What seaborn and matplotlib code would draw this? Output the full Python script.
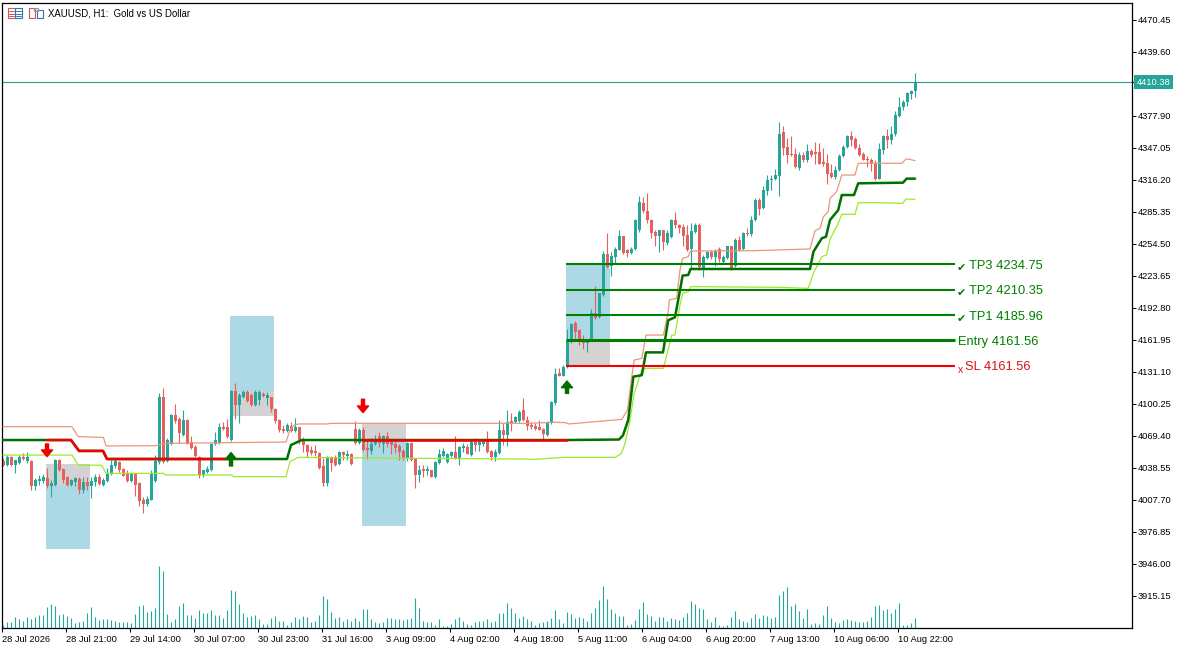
import numpy as np
import pandas as pd
import matplotlib
matplotlib.use('Agg')
import matplotlib.pyplot as plt
from matplotlib.patches import Rectangle
import seaborn as sns

# candles, bar 0 = 28 Jul 2026
opens = [4045,4041,4049,4041,4043,4049,4045,4045,4021,4026,
         4026,4029,4021,4022,4046,4038,4030,4022,4025,4028,
         4017,4025,4021,4025,4030,4022,4026,4033,4040,4044,
         4038,4033,4026,4033,4024,4008,4004,4008,4026,4044,
         4107,4045,4062,4090,4086,4070,4085,4064,4059,4049,
         4032,4035,4037,4062,4063,4078,4078,4066,4113,4099,
         4107,4112,4109,4099,4104,4110,4106,4107,4095,4085,
         4076,4074,4079,4074,4078,4066,4061,4056,4055,4053,
         4040,4024,4048,4049,4042,4054,4050,4052,4076,4063,
         4075,4057,4055,4062,4069,4062,4069,4064,4062,4060,
         4055,4048,4063,4047,4032,4037,4036,4037,4030,4043,
         4050,4044,4050,4054,4048,4058,4059,4051,4064,4061,
         4062,4066,4055,4049,4053,4075,4070,4084,4083,4084,
         4094,4085,4080,4079,4078,4076,4070,4082,4101,4130,
         4127,4136,4161,4178,4172,4163,4159,4163,4188,4184,
         4205,4245,4233,4242,4249,4262,4249,4246,4250,4268,
         4294,4286,4278,4266,4262,4268,4255,4261,4278,4273,
         4271,4263,4250,4266,4273,4231,4241,4247,4242,4250,
         4237,4241,4253,4233,4258,4250,4265,4264,4278,4297,
         4289,4306,4316,4317,4320,4362,4348,4341,4341,4328,
         4340,4335,4344,4343,4343,4334,4333,4323,4319,4326,
         4339,4348,4359,4356,4347,4341,4336,4335,4333,4317,
         4345,4359,4355,4361,4378,4387,4391,4399,4402]
highs = [4048,4051,4050,4046,4051,4053,4054,4046,4029,4032,
         4033,4039,4027,4047,4047,4039,4031,4028,4030,4030,
         4030,4030,4030,4033,4033,4029,4039,4046,4047,4045,
         4039,4037,4034,4034,4025,4011,4012,4037,4051,4111,
         4116,4067,4091,4100,4088,4094,4086,4069,4061,4050,
         4037,4040,4063,4073,4082,4083,4086,4114,4120,4111,
         4114,4114,4111,4114,4114,4112,4112,4107,4096,4086,
         4080,4082,4083,4087,4078,4068,4062,4060,4061,4054,
         4048,4050,4050,4051,4055,4055,4056,4053,4084,4077,
         4078,4066,4067,4070,4073,4070,4073,4066,4066,4062,
         4057,4064,4064,4048,4041,4041,4040,4037,4045,4057,
         4058,4053,4055,4069,4060,4063,4062,4066,4067,4065,
         4066,4074,4056,4057,4085,4082,4094,4092,4089,4094,
         4106,4089,4083,4082,4085,4077,4084,4103,4135,4135,
         4138,4173,4178,4180,4173,4167,4162,4192,4214,4207,
         4248,4265,4247,4252,4268,4262,4250,4252,4279,4301,
         4300,4304,4279,4268,4268,4268,4268,4279,4285,4274,
         4274,4273,4275,4275,4275,4244,4248,4249,4250,4252,
         4244,4253,4253,4260,4262,4266,4270,4281,4299,4299,
         4310,4321,4321,4327,4372,4368,4357,4359,4347,4343,
         4343,4351,4346,4353,4352,4347,4341,4332,4330,4341,
         4350,4360,4363,4358,4351,4343,4339,4337,4335,4352,
         4360,4365,4368,4383,4396,4393,4401,4403,4419]
lows = [4040,4040,4040,4034,4042,4046,4043,4017,4017,4022,
        4024,4019,4011,4021,4036,4024,4021,4021,4021,4013,
        4014,4017,4010,4021,4022,4021,4025,4032,4039,4035,
        4031,4025,4025,4012,4002,3995,4002,4008,4025,4042,
        4043,4044,4061,4082,4063,4069,4062,4057,4049,4029,
        4030,4034,4036,4061,4062,4075,4067,4065,4086,4082,
        4106,4102,4098,4098,4099,4107,4099,4093,4082,4073,
        4072,4073,4073,4073,4062,4054,4049,4051,4050,4038,
        4021,4021,4036,4040,4041,4046,4046,4041,4062,4062,
        4055,4047,4052,4061,4059,4053,4059,4052,4053,4046,
        4046,4045,4045,4019,4025,4030,4032,4030,4029,4042,
        4049,4043,4049,4047,4041,4054,4052,4050,4055,4055,
        4060,4053,4046,4045,4052,4061,4060,4074,4082,4083,
        4084,4075,4076,4075,4075,4066,4069,4081,4099,4127,
        4127,4135,4159,4162,4157,4153,4150,4161,4182,4183,
        4204,4231,4224,4236,4249,4245,4242,4245,4249,4266,
        4284,4275,4260,4253,4247,4249,4254,4260,4270,4265,
        4253,4248,4230,4265,4229,4223,4240,4240,4233,4237,
        4236,4240,4229,4232,4248,4249,4262,4262,4277,4282,
        4288,4302,4307,4316,4301,4340,4333,4339,4328,4326,
        4334,4334,4338,4332,4332,4330,4312,4318,4317,4325,
        4338,4347,4349,4346,4339,4335,4329,4325,4316,4317,
        4341,4347,4351,4359,4377,4384,4388,4394,4396]
closes = [4041,4049,4041,4046,4049,4047,4049,4021,4027,4028,
          4030,4021,4024,4046,4037,4027,4022,4027,4029,4017,
          4025,4021,4026,4030,4023,4027,4033,4041,4045,4037,
          4031,4026,4033,4022,4007,4004,4009,4033,4045,4107,
          4044,4066,4090,4084,4072,4085,4062,4058,4050,4032,
          4037,4038,4062,4066,4078,4076,4068,4113,4099,4109,
          4112,4103,4099,4112,4112,4108,4109,4095,4084,4075,
          4074,4080,4074,4078,4066,4061,4054,4053,4053,4039,
          4024,4049,4043,4041,4054,4051,4052,4042,4063,4075,
          4056,4056,4062,4066,4063,4069,4062,4061,4058,4054,
          4048,4063,4046,4032,4037,4036,4037,4030,4044,4052,
          4055,4052,4054,4048,4059,4059,4052,4064,4061,4064,
          4064,4054,4049,4054,4075,4070,4083,4082,4088,4093,
          4085,4079,4078,4076,4075,4071,4083,4102,4129,4127,
          4136,4161,4177,4170,4163,4159,4160,4188,4183,4207,
          4245,4232,4243,4250,4262,4246,4246,4250,4278,4295,
          4286,4278,4265,4262,4268,4256,4265,4278,4273,4270,
          4262,4249,4267,4273,4232,4242,4247,4242,4248,4240,
          4242,4253,4231,4258,4249,4265,4264,4278,4297,4288,
          4307,4316,4317,4321,4361,4347,4340,4340,4329,4340,
          4335,4344,4340,4341,4332,4332,4322,4319,4326,4339,
          4348,4359,4355,4347,4340,4335,4335,4332,4317,4346,
          4359,4355,4361,4379,4387,4391,4400,4402,4410.38]
tick_volume = [10,18,18,33,29,23,33,29,35,39,
               40,63,73,67,40,43,37,31,15,18,
               23,47,63,35,25,28,29,25,22,19,
               19,18,15,43,67,70,48,53,61,187,
               173,43,20,28,67,75,41,40,31,55,
               45,45,55,41,39,31,55,115,113,73,
               45,35,37,41,27,13,13,30,37,23,
               23,10,19,33,29,37,33,18,23,39,
               97,88,50,31,33,23,27,23,31,23,
               59,57,29,19,15,19,31,31,27,27,
               26,28,31,91,61,21,18,19,10,27,
               8,7,12,29,33,23,13,9,19,21,
               21,27,19,23,45,47,75,60,45,31,
               37,27,23,11,15,19,21,31,55,27,
               15,50,43,32,34,32,22,46,61,85,
               127,88,58,46,36,37,10,13,25,58,
               79,43,37,22,34,34,22,31,28,25,
               34,46,82,73,61,59,28,19,34,10,
               7,10,34,52,28,22,19,31,43,31,
               40,37,31,34,100,112,124,67,73,52,
               31,58,13,16,13,40,67,31,19,16,
               25,28,25,22,19,19,22,34,67,70,
               55,58,46,58,76,10,10,16,31]

# band turning points: bar number and price
upper_bars = [0,17.2,18.8,25.1,25.75,38,41,56.7,70.75,71.75,72.8,74,81,81.9,131,138,140.5,141.5,154.7,
              156.1,157.2,157.8,159.7,160.75,165.1,166.3,166.6,168.4,169.25,169.9,171.3,171.9,187.6,
              198.4,201.75,203,204.25,205.1,206.3,206.75,208.4,209.7,213,213.8,224.7,225.75,226.3,228]
upper_vals = [4078.4,4078.4,4068.8,4068,4059.8,4060,4062.3,4063,4063.6,4075.2,4080,4081,4081,4081.6,4081.6,4082.6,4082.3,4081,4085.4,
              4094.4,4126.6,4142.6,4144.3,4166.7,4166.7,4189.2,4200.5,4202.1,4229.4,4240.7,4242.3,4247.7,4248,
              4249.3,4249.7,4267.3,4269.6,4280.8,4285.6,4298.5,4304.9,4321,4321,4332.3,4332.3,4336.4,4336.4,4334.8]
mid_bars = [0,11,17,19,25,26,57,71,72,74.7,90,141,154,155,156.3,157.6,159.7,160.75,165,166.3,168,169.25,169.9,
            171.3,171.9,201.75,202.6,204.7,205.75,206.75,208.8,209.7,212.75,213.8,225,225.9,228]
mid_vals = [4065.5,4065.5,4065.5,4055,4055,4047.2,4047.2,4047.2,4060.7,4065.5,4065.5,4065.5,4066,4070,4084.8,4126.6,4128,4150,4150,4181,4183.8,4210,4224,
            4224.6,4230.4,4230.4,4247,4260,4261.5,4277.6,4287.2,4301.7,4301.7,4313,4313.6,4317.5,4317.5]
lower_bars = [0,17.25,18.8,24.7,25.75,40.1,40.7,57.2,57.6,70.75,71.75,73.8,102.6,130.9,133,140.1,153,154.5,155.5,156.75,
              157.8,159.7,160.9,165.1,167.2,168,169.25,169.9,171.3,171.9,194.25,201.3,202.6,204.7,205.9,206.75,
              208.8,209.7,213,213.8,219.25,224.9,225.75,228]
lower_vals = [4051,4051,4041.4,4041.1,4033.4,4033.4,4031.8,4031.8,4030.2,4030.2,4044.7,4048.8,4047.9,4047.2,4046.9,4048.8,4048.8,4052,4062,4084.8,
              4110.5,4133,4134.6,4134.6,4166.7,4166.7,4195.7,4207,4208.5,4213.4,4212.7,4211.7,4226.2,4242.3,4243.9,4259,
              4274.4,4283.1,4283.1,4294.3,4294.3,4293.7,4297.9,4297.5]

# sell/buy stretches of the middle line: first bar, last bar
red_stretches = [(11, 57), (90, 141)]

# trade boxes: first bar, last bar, blue from/to, grey from/to
box_starts = [10.75, 56.75, 89.75, 140.75]
box_ends = [21.75, 67.75, 100.75, 151.75]
blue_low = [3960.5, 4112, 3983, 4161.56]
blue_high = [4022.2, 4185, 4065.5, 4235]
grey_low = [4022.2, 4089, 4065.5, 4136.8]
grey_high = [4042.6, 4112, 4081.6, 4161.56]

# arrows: bar, tail price, tip price
sell_bars = [11, 90]
sell_tails = [4061.7, 4104.8]
sell_tips = [4049.5, 4091.9]
buy_bars = [57, 141]
buy_tails = [4040.5, 4110.5]
buy_tips = [4053.4, 4122.4]

level_names = ['TP3 4234.75', 'TP2 4210.35', 'TP1 4185.96', 'Entry 4161.56', 'SL 4161.56']
level_prices = [4234.75, 4210.35, 4185.96, 4161.56, 4137.0]

y_ticks = [4470.45, 4439.60, 4377.90, 4347.05, 4316.20, 4285.35, 4254.50, 4223.65, 4192.80,
           4161.95, 4131.10, 4100.25, 4069.40, 4038.55, 4007.70, 3976.85, 3946.00, 3915.15]
last_price = 4410.38
x_tick_bars = [0, 16, 32, 48, 64, 80, 96, 112, 128, 144, 160, 176, 192, 208, 224]
x_tick_labels = ['28 Jul 2026', '28 Jul 21:00', '29 Jul 14:00', '30 Jul 07:00', '30 Jul 23:00',
                 '31 Jul 16:00', '3 Aug 09:00', '4 Aug 02:00', '4 Aug 18:00', '5 Aug 11:00',
                 '6 Aug 04:00', '6 Aug 20:00', '7 Aug 13:00', '10 Aug 06:00', '10 Aug 22:00']

TEAL = '#26A69A'
CANDLE_RED = '#E5605E'
GREEN = '#007F00'

sns.set_theme(style='white')
plt.rcParams['font.family'] = ['Liberation Sans', 'DejaVu Sans']

W, H = 1184, 649
X_LEFT = 1.75
X_RIGHT = 1131.7
BAR_ZERO = 3.0
fig = plt.figure(figsize=(W / 100, H / 100), dpi=100)
ax = fig.add_axes([X_LEFT / W, 1 - 628.3 / H, (X_RIGHT - X_LEFT) / W, (628.3 - 2.5) / H])
# bars sit 4 px apart
x_limits = (-(BAR_ZERO - X_LEFT) / 4, (X_RIGHT - BAR_ZERO) / 4)

candles = pd.DataFrame({'open': opens, 'high': highs, 'low': lows, 'close': closes, 'vol': tick_volume})
candles['bar'] = candles.index
candles['up'] = candles['close'] >= candles['open']
candle_colors = np.where(candles['up'], TEAL, CANDLE_RED)

# boxes behind everything
for i in range(len(box_starts)):
    w = box_ends[i] - box_starts[i]
    ax.add_patch(Rectangle((box_starts[i], blue_low[i]), w, blue_high[i] - blue_low[i],
                           color='#ADD8E6', lw=0, zorder=1))
    ax.add_patch(Rectangle((box_starts[i], grey_low[i]), w, grey_high[i] - grey_low[i],
                           color='#D3D3D3', lw=0, zorder=1.1))

# candles
ax.vlines(candles['bar'], candles['low'], candles['high'], colors=candle_colors, lw=0.8, zorder=2)
body_low = candles[['open', 'close']].min(axis=1)
body_size = (candles['close'] - candles['open']).abs().clip(lower=1.5)
ax.bar(candles['bar'], body_size, bottom=body_low, width=0.75, color=candle_colors, linewidth=0, zorder=2.1,
       antialiased=False)

# bands
sns.lineplot(x=upper_bars, y=upper_vals, ax=ax, color='#E9967A', lw=0.9, estimator=None, sort=False, zorder=3)
sns.lineplot(x=lower_bars, y=lower_vals, ax=ax, color='#9BEA2A', lw=0.9, estimator=None, sort=False, zorder=3)
sns.lineplot(x=mid_bars, y=mid_vals, ax=ax, color='#007000', lw=1.8, estimator=None, sort=False, zorder=3.2)
mid = pd.DataFrame({'bar': mid_bars, 'val': mid_vals})
for first, last in red_stretches:
    part = mid[(mid['bar'] >= first) & (mid['bar'] <= last)]
    sns.lineplot(x=part['bar'], y=part['val'], ax=ax, color='#F00000', lw=1.8, estimator=None, sort=False, zorder=3.3)

# trade levels
for name, price in zip(level_names, level_prices):
    is_sl = name.startswith('SL')
    is_entry = name.startswith('Entry')
    ax.hlines(price, 140.75, 238, colors='#F00000' if is_sl else GREEN, lw=2.2 if is_entry else 1.5, zorder=4)
    label_y = price - 1.5
    if is_sl:
        ax.text(238.6, price - 4, 'x', color='#E01010', fontsize=7.5, va='center', ha='left', zorder=5)
        ax.text(240.6, label_y, name, color='#E01010', fontsize=9.3, va='center', ha='left', zorder=5)
    elif is_entry:
        ax.text(238.8, label_y, name, color=GREEN, fontsize=9.3, va='center', ha='left', zorder=5)
    else:
        ax.text(238.4, price - 3.5, '\u2714', color=GREEN, fontsize=8, va='center', ha='left',
                family='DejaVu Sans', zorder=5)
        ax.text(241.6, label_y, name, color=GREEN, fontsize=9.3, va='center', ha='left', zorder=5)

# signal arrows
for bar, tail, tip in zip(sell_bars, sell_tails, sell_tips):
    ax.annotate('', xy=(bar, tip), xytext=(bar, tail), zorder=6,
                arrowprops=dict(width=2.2, headwidth=8, headlength=4.8, color='#F00000', shrink=0))
for bar, tail, tip in zip(buy_bars, buy_tails, buy_tips):
    ax.annotate('', xy=(bar, tip), xytext=(bar, tail), zorder=6,
                arrowprops=dict(width=2.2, headwidth=8, headlength=4.8, color='#007000', shrink=0))

# last price line and tag
ax.axhline(last_price, color='#2A9D8F', lw=0.8, zorder=2.5)
ax.text(283.4, last_price, '%.2f' % last_price, color='white', fontsize=6.7, va='center', ha='left', clip_on=False,
        bbox=dict(facecolor=TEAL, edgecolor='none', boxstyle='square,pad=0.25'), zorder=7)

# tick volume on its own hidden scale at the bottom of the chart
vol_ax = ax.twinx()
vol_ax.vlines(candles['bar'], 0, candles['vol'], colors=TEAL, lw=0.8)
vol_ax.set_xlim(x_limits)
vol_ax.set_ylim(0, 3 * (628.3 - 2.5))
vol_ax.set_axis_off()

# twinx moves the price ticks to the left, so set them after it
ax.set_xlim(x_limits)
ax.set_ylim(3884, 4487.3)
ax.yaxis.tick_right()
ax.set_yticks(y_ticks + [last_price])
ax.set_yticklabels(['%.2f' % v for v in y_ticks] + [''])
# the date ticks fall a quarter bar before the candle they belong to
ax.set_xticks([b - 0.25 for b in x_tick_bars])
ax.set_xticklabels(x_tick_labels, ha='left')
ax.tick_params(axis='both', length=3, width=0.75, color='black', labelsize=6.7, labelcolor='black', pad=1.5,
               bottom=True, right=True, left=False)
ax.set_xlabel('')
ax.set_ylabel('')
for spine in ax.spines.values():
    spine.set_visible(True)
    spine.set_color('black')
    spine.set_linewidth(0.9)

# header text and the two small toolbar icons
fig.text(48.5 / W, 1 - 13.5 / H, 'XAUUSD, H1:  Gold vs US Dollar', fontsize=6.9, color='black', va='center', ha='left')


def icon_box(x, y, w, h, color):
    fig.add_artist(Rectangle((x / W, 1 - (y + h) / H), w / W, h / H, fill=False, edgecolor=color, lw=0.8,
                             transform=fig.transFigure))


def icon_line(x0, x1, y, color):
    fig.add_artist(plt.Line2D([x0 / W, x1 / W], [1 - y / H, 1 - y / H], color=color, lw=0.7, transform=fig.transFigure))


icon_box(7.5, 8, 7, 10, '#D9534F')
icon_box(15, 8, 7, 10, '#2E75B6')
for yy in [11, 13.5, 16]:
    icon_line(8.5, 13.5, yy, '#D9534F')
    icon_line(16, 21, yy, '#2E75B6')
icon_box(28.5, 8, 6.5, 10, '#D9534F')
icon_box(36.5, 10, 6.5, 8, '#2E75B6')
icon_box(33.5, 7.5, 4.5, 3, '#999999')

fig.savefig('out.png', dpi=100)
